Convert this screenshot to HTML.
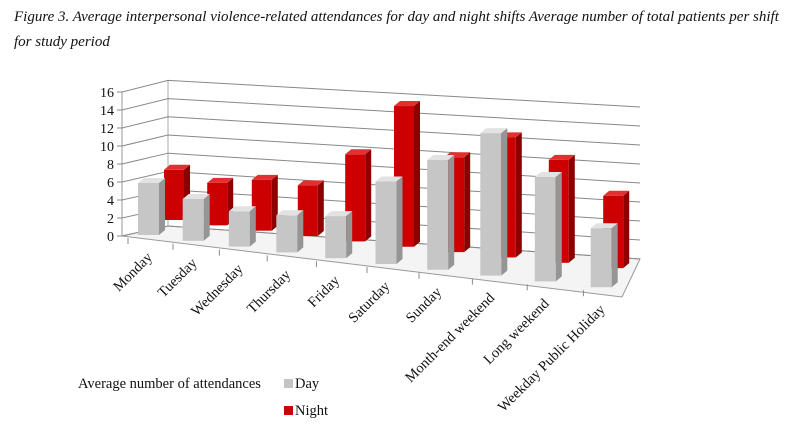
<!DOCTYPE html>
<html><head><meta charset="utf-8"><style>
body{margin:0;background:#fff;width:800px;height:429px;overflow:hidden}
svg{position:absolute;left:0;top:0}
text{font-family:"Liberation Serif",serif;fill:#111}
</style></head><body>
<svg id="c" width="800" height="429">
<text x="14" y="21" font-size="15" font-style="italic">Figure 3. Average interpersonal violence-related attendances for day and night shifts Average number of total patients per shift</text>
<text x="14" y="46" font-size="15" font-style="italic">for study period</text>
<g id="wall"></g>
<g id="bars"></g>
<g id="labels"></g>
<text x="78" y="388" font-size="14.5">Average number of attendances</text>
<rect x="284" y="379" width="9" height="9" fill="#c4c4c4"/>
<text x="295" y="388" font-size="14.5">Day</text>
<rect x="284" y="406" width="9" height="9" fill="#cc0000"/>
<text x="295" y="415" font-size="14.5">Night</text>
</svg>
<script>
const categories=["Monday","Tuesday","Wednesday","Thursday","Friday","Saturday","Sunday","Month-end weekend","Long weekend","Weekday Public Holiday"];
const dayValues=[5.2,4.1,3.4,3.5,3.9,7.5,9.8,12.5,9,5];
const nightValues=[5.4,4.5,5.3,5.2,8.8,14,9.3,11.6,9.8,6.8];
const yTicks=[0,2,4,6,8,10,12,14,16];
const NS="http://www.w3.org/2000/svg";
function mk(tag,attrs,parent){const e=document.createElementNS(NS,tag);for(const k in attrs)e.setAttribute(k,attrs[k]);parent.appendChild(e);return e;}
const wall=document.getElementById('wall'),bars=document.getElementById('bars'),labels=document.getElementById('labels');
const FL={x:122,y0:236,s:9}, BL={x:168,y0:226,s:9.1}, BR={x:640,y0:259,s:9.5}, FR={x:622,y:297};
let fl=mk('polygon',{points:`${FL.x},${FL.y0} ${BL.x},${BL.y0} ${BR.x},${BR.y0} ${FR.x},${FR.y}`,fill:'#f4f4f4',stroke:'#999','stroke-width':1},wall);


mk('line',{x1:BL.x,y1:BL.y0-16*BL.s,x2:BL.x,y2:BL.y0,stroke:'#aaa'},wall);
mk('line',{x1:FL.x,y1:FL.y0-16*FL.s,x2:FL.x,y2:FL.y0,stroke:'#999'},wall);
yTicks.forEach(v=>{
  const yl=FL.y0-v*FL.s, yb=BL.y0-v*BL.s, yr=BR.y0-v*BR.s;
  const g=mk('polyline',{points:`${FL.x},${yl} ${BL.x},${yb} ${BR.x},${yr}`,fill:'none',stroke:'#888','stroke-width':1},wall);
  
  
  mk('line',{x1:FL.x-5,y1:yl,x2:FL.x,y2:yl,stroke:'#888'},wall);
  const t=mk('text',{x:FL.x-8,y:yl+5,'font-size':14,'text-anchor':'end'},wall);
  t.textContent=v;
  
  
});
function dayX(i){return 138+i*44+i*i*0.7;}
function dayB(i){return 235+i*5.8;}
function bar(x,b,h,w,cols,name){
  const g=mk('g',{},bars);
  
  
  const dx=6,dy=5,t=b-h;
  mk('rect',{x:x,y:t,width:w,height:h,fill:cols[0]},g);
  mk('polygon',{points:`${x+w},${t} ${x+w+dx},${t-dy} ${x+w+dx},${b-dy} ${x+w},${b}`,fill:cols[1]},g);
  mk('polygon',{points:`${x},${t} ${x+dx},${t-dy} ${x+w+dx},${t-dy} ${x+w},${t}`,fill:cols[2]},g);
}
nightValues.forEach((v,i)=>{
  const x=dayX(i)+26-1.5*i, b=dayB(i)-15-0.45*i;
  bar(x,b,v*(9.3+0.15*i),20,['#cc0000','#8c0000','#e23030'],'bar-night-'+i);
});
dayValues.forEach((v,i)=>{
  bar(dayX(i),dayB(i),v*(10+0.2*i),21,['#c6c6c6','#959595','#e2e2e2'],'bar-day-'+i);
});
categories.forEach((c,i)=>{
  const tx=dayX(i)-10, ty=dayB(i)+3;
  mk('line',{x1:tx+i*0.3,y1:ty,x2:tx+i*0.3,y2:ty+6,stroke:'#888'},labels);
  const t=mk('text',{x:0,y:0,'font-size':14.5,'text-anchor':'end',transform:`translate(${dayX(i)+15},${dayB(i)+23}) rotate(-45)`},labels);
  t.textContent=c;
  
  
});
</script>
</body></html>
